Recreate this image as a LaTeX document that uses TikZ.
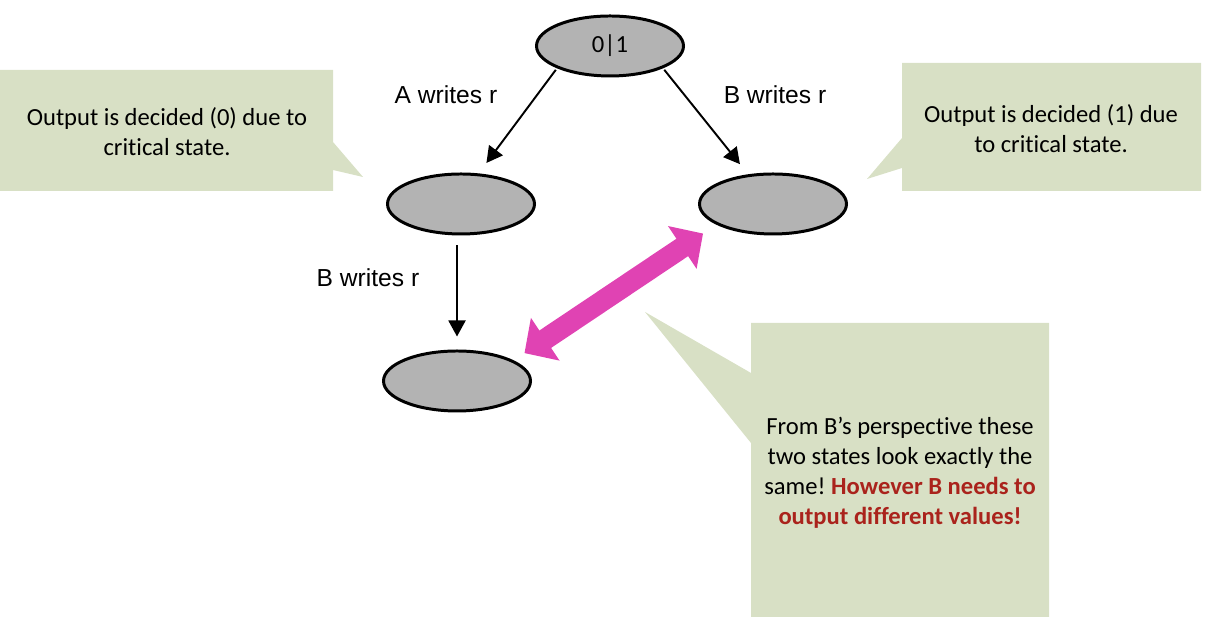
\documentclass[tikz,border=0pt]{standalone}
\usepackage{fontspec}
\setmainfont{Carlito}[Ligatures=NoCommon]
\newfontfamily\arialfont{Liberation Sans}
\usetikzlibrary{shapes.geometric, arrows.meta}
\definecolor{notegreen}{RGB}{216, 224, 197}
\definecolor{stategray}{RGB}{179, 179, 179}
\definecolor{swappink}{RGB}{224, 67, 179}
\definecolor{alertred}{RGB}{170, 35, 28}
\frenchspacing

\begin{document}
\begin{tikzpicture}[
    state/.style={ellipse, draw=black, line width=1.7pt, fill=stategray, minimum width=2.94cm, minimum height=1.2cm, inner sep=0pt, font=\fontsize{14}{17}\selectfont},
    flow/.style={-{Triangle[length=0.32cm, width=0.34cm]}, line width=1.1pt},
    steplabel/.style={font=\arialfont\fontsize{14}{17}\selectfont},
    notetext/.style={align=center, font=\fontsize{14}{17}\selectfont}
  ]
  \useasboundingbox (0, 0) rectangle (24.14, 12.54);

  % States
  \node[state] (s0) at (12.2, 11.62) {0|1};
  \node[state] (sA) at (9.22, 8.46) {};
  \node[state] (sB) at (15.46, 8.46) {};
  \node[state] (sAB) at (9.14, 4.92) {};

  % Transitions
  \draw[flow, shorten <=0.04cm, shorten >=0.26cm] (s0.south west) -- (sA.60);
  \draw[flow, shorten <=0.04cm, shorten >=0.26cm] (s0.south east) -- (sB.130);
  \draw[flow, shorten <=0.2cm, shorten >=0.26cm] (sA.south -| sAB) -- (sAB.north);
  \node[steplabel] (lblA) at (8.92, 10.64) {A writes r};
  \node[steplabel] (lblB) at (15.5, 10.64) {B writes r};
  \node[steplabel] (lblAB) at (7.36, 6.98) {B writes r};

  % Indistinguishable states
  \draw[{Triangle[length=0.5cm, width=1.0cm]}-{Triangle[length=0.5cm, width=1.0cm]}, swappink, line width=0.42cm, shorten <=0.26cm, shorten >=0.32cm] (sAB.20) -- (sB.200);

  % Callout: left
  \fill[notegreen] (0, 11.14) -- (6.66, 11.14) -- (6.66, 9.70) -- (7.26, 9.0) -- (6.66, 9.14) -- (6.66, 8.72) -- (0, 8.72) -- cycle;
  \node[notetext] (noteA) at (3.34, 9.9) {Output is decided (0) due to\\critical state.};

  % Callout: right
  \fill[notegreen] (18.04, 11.28) -- (24.02, 11.28) -- (24.02, 8.72) -- (18.04, 8.72) -- (18.04, 9.18) -- (17.34, 8.96) -- (18.04, 9.78) -- cycle;
  \node[notetext] (noteB) at (21.02, 9.97) {Output is decided (1) due\\to critical state.};

  % Callout: bottom
  \fill[notegreen] (15.02, 6.08) -- (20.98, 6.08) -- (20.98, 0.2) -- (15.02, 0.2) -- (15.02, 3.68) -- (12.9, 6.3) -- (15.02, 5.08) -- cycle;
  \node[notetext] (noteC) at (18.0, 3.08) {From B's perspective these\\two states look exactly the\\same! \textcolor{alertred}{\textbf{However B needs to}}\\\textcolor{alertred}{\textbf{output different values!}}};
\end{tikzpicture}
\end{document}
